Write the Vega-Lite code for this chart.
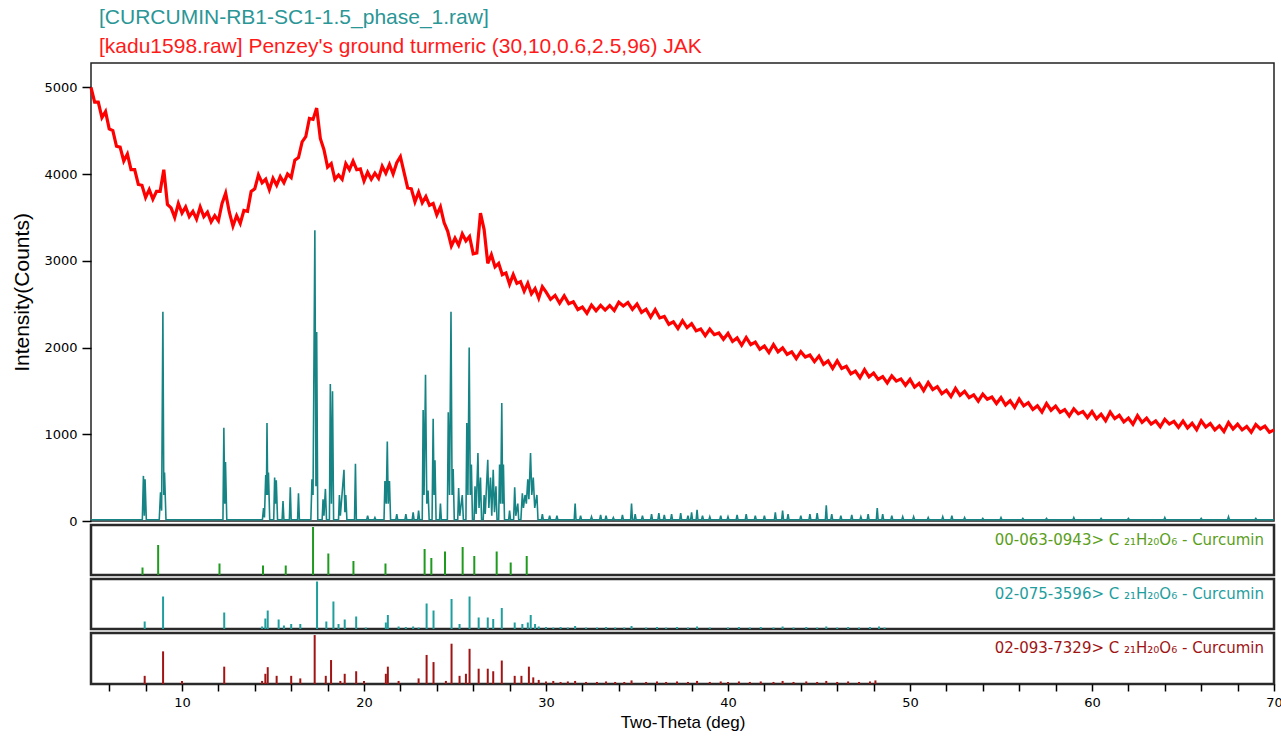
{
  "$schema": "https://vega.github.io/schema/vega-lite/v6.json",
  "background": "white",
  "padding": {"left": 11, "top": 6, "right": 4, "bottom": 0},
  "spacing": 4,
  "bounds": "flush",
  "config": {"font": "Liberation Sans", "axis": {"labelOverlap": false}},
  "datasets": {
    "turmeric": [
      {"t":5.0,"c":5000},{"t":5.2,"c":4830},{"t":5.4,"c":4830},{"t":5.6,"c":4650},{"t":5.8,"c":4720},{"t":6.0,"c":4520},{"t":6.2,"c":4500},{"t":6.4,"c":4320},{"t":6.6,"c":4310},{"t":6.8,"c":4150},
      {"t":7.0,"c":4230},{"t":7.2,"c":4050},{"t":7.4,"c":4050},{"t":7.6,"c":3880},{"t":7.8,"c":3870},{"t":8.0,"c":3730},{"t":8.2,"c":3820},{"t":8.4,"c":3710},{"t":8.6,"c":3800},{"t":8.8,"c":3800},
      {"t":9.0,"c":4050},{"t":9.2,"c":3650},{"t":9.4,"c":3610},{"t":9.6,"c":3500},{"t":9.8,"c":3660},{"t":10.0,"c":3550},{"t":10.2,"c":3620},{"t":10.4,"c":3510},{"t":10.6,"c":3570},{"t":10.8,"c":3480},
      {"t":11.0,"c":3620},{"t":11.2,"c":3510},{"t":11.4,"c":3560},{"t":11.6,"c":3450},{"t":11.8,"c":3520},{"t":12.0,"c":3460},{"t":12.2,"c":3660},{"t":12.4,"c":3780},{"t":12.6,"c":3560},{"t":12.8,"c":3400},
      {"t":13.0,"c":3520},{"t":13.2,"c":3430},{"t":13.4,"c":3580},{"t":13.6,"c":3570},{"t":13.8,"c":3800},{"t":14.0,"c":3830},{"t":14.2,"c":3990},{"t":14.4,"c":3900},{"t":14.6,"c":3940},{"t":14.8,"c":3820},
      {"t":15.0,"c":3950},{"t":15.2,"c":3870},{"t":15.4,"c":3970},{"t":15.6,"c":3900},{"t":15.8,"c":4000},{"t":16.0,"c":3960},{"t":16.2,"c":4160},{"t":16.4,"c":4190},{"t":16.6,"c":4370},{"t":16.8,"c":4430},
      {"t":17.0,"c":4640},{"t":17.2,"c":4630},{"t":17.4,"c":4760},{"t":17.6,"c":4410},{"t":17.8,"c":4280},{"t":18.0,"c":4080},{"t":18.2,"c":4120},{"t":18.4,"c":3940},{"t":18.6,"c":3990},{"t":18.8,"c":3940},
      {"t":19.0,"c":4120},{"t":19.2,"c":4050},{"t":19.4,"c":4150},{"t":19.6,"c":4050},{"t":19.8,"c":4060},{"t":20.0,"c":3920},{"t":20.2,"c":4020},{"t":20.4,"c":3940},{"t":20.6,"c":4010},{"t":20.8,"c":3950},
      {"t":21.0,"c":4090},{"t":21.2,"c":4010},{"t":21.4,"c":4110},{"t":21.6,"c":4000},{"t":21.8,"c":4130},{"t":22.0,"c":4200},{"t":22.2,"c":4020},{"t":22.4,"c":3840},{"t":22.6,"c":3830},{"t":22.8,"c":3680},
      {"t":23.0,"c":3790},{"t":23.2,"c":3670},{"t":23.4,"c":3740},{"t":23.6,"c":3640},{"t":23.8,"c":3660},{"t":24.0,"c":3530},{"t":24.2,"c":3620},{"t":24.4,"c":3440},{"t":24.6,"c":3340},{"t":24.8,"c":3170},
      {"t":25.0,"c":3260},{"t":25.2,"c":3180},{"t":25.4,"c":3310},{"t":25.6,"c":3230},{"t":25.8,"c":3280},{"t":26.0,"c":3080},{"t":26.2,"c":3090},{"t":26.4,"c":3550},{"t":26.6,"c":3360},{"t":26.8,"c":2970},
      {"t":27.0,"c":3070},{"t":27.2,"c":2930},{"t":27.4,"c":2970},{"t":27.6,"c":2840},{"t":27.8,"c":2860},{"t":28.0,"c":2730},{"t":28.2,"c":2840},{"t":28.4,"c":2740},{"t":28.6,"c":2760},{"t":28.8,"c":2650},
      {"t":29.0,"c":2740},{"t":29.2,"c":2620},{"t":29.4,"c":2680},{"t":29.6,"c":2570},{"t":29.8,"c":2700},
      {"t":30.0,"c":2642},{"t":30.25,"c":2555},{"t":30.5,"c":2601},{"t":30.75,"c":2511},{"t":31.0,"c":2596},{"t":31.25,"c":2506},{"t":31.5,"c":2528},{"t":31.75,"c":2438},
      {"t":32.0,"c":2467},{"t":32.25,"c":2394},{"t":32.5,"c":2489},{"t":32.75,"c":2424},{"t":33.0,"c":2485},{"t":33.25,"c":2432},{"t":33.5,"c":2484},{"t":33.75,"c":2426},
      {"t":34.0,"c":2522},{"t":34.25,"c":2478},{"t":34.5,"c":2518},{"t":34.75,"c":2440},{"t":35.0,"c":2502},{"t":35.25,"c":2405},{"t":35.5,"c":2441},{"t":35.75,"c":2351},
      {"t":36.0,"c":2436},{"t":36.25,"c":2341},{"t":36.5,"c":2358},{"t":36.75,"c":2268},{"t":37.0,"c":2297},{"t":37.25,"c":2219},{"t":37.5,"c":2309},{"t":37.75,"c":2229},
      {"t":38.0,"c":2275},{"t":38.25,"c":2192},{"t":38.5,"c":2214},{"t":38.75,"c":2136},{"t":39.0,"c":2212},{"t":39.25,"c":2148},{"t":39.5,"c":2168},{"t":39.75,"c":2095},
      {"t":40.0,"c":2162},{"t":40.25,"c":2070},{"t":40.5,"c":2111},{"t":40.75,"c":2026},{"t":41.0,"c":2116},{"t":41.25,"c":2034},{"t":41.5,"c":2063},{"t":41.75,"c":1980},
      {"t":42.0,"c":2017},{"t":42.25,"c":1942},{"t":42.5,"c":2034},{"t":42.75,"c":1951},{"t":43.0,"c":1995},{"t":43.25,"c":1920},{"t":43.5,"c":1949},{"t":43.75,"c":1873},
      {"t":44.0,"c":1952},{"t":44.25,"c":1891},{"t":44.5,"c":1913},{"t":44.75,"c":1837},{"t":45.0,"c":1902},{"t":45.25,"c":1807},{"t":45.5,"c":1846},{"t":45.75,"c":1759},
      {"t":46.0,"c":1846},{"t":46.25,"c":1758},{"t":46.5,"c":1783},{"t":46.75,"c":1696},{"t":47.0,"c":1727},{"t":47.25,"c":1652},{"t":47.5,"c":1744},{"t":47.75,"c":1661},
      {"t":48.0,"c":1705},{"t":48.25,"c":1632},{"t":48.5,"c":1664},{"t":48.75,"c":1591},{"t":49.0,"c":1672},{"t":49.25,"c":1613},{"t":49.5,"c":1638},{"t":49.75,"c":1565},
      {"t":50.0,"c":1632},{"t":50.25,"c":1543},{"t":50.5,"c":1586},{"t":50.75,"c":1503},{"t":51.0,"c":1596},{"t":51.25,"c":1516},{"t":51.5,"c":1548},{"t":51.75,"c":1468},
      {"t":52.0,"c":1507},{"t":52.25,"c":1434},{"t":52.5,"c":1529},{"t":52.75,"c":1449},{"t":53.0,"c":1495},{"t":53.25,"c":1422},{"t":53.5,"c":1454},{"t":53.75,"c":1381},
      {"t":54.0,"c":1462},{"t":54.25,"c":1403},{"t":54.5,"c":1428},{"t":54.75,"c":1355},{"t":55.0,"c":1422},{"t":55.25,"c":1337},{"t":55.5,"c":1386},{"t":55.75,"c":1309},
      {"t":56.0,"c":1406},{"t":56.25,"c":1328},{"t":56.5,"c":1363},{"t":56.75,"c":1286},{"t":57.0,"c":1327},{"t":57.25,"c":1256},{"t":57.5,"c":1354},{"t":57.75,"c":1277},
      {"t":58.0,"c":1325},{"t":58.25,"c":1252},{"t":58.5,"c":1284},{"t":58.75,"c":1211},{"t":59.0,"c":1292},{"t":59.25,"c":1235},{"t":59.5,"c":1263},{"t":59.75,"c":1193},
      {"t":60.0,"c":1262},{"t":60.25,"c":1180},{"t":60.5,"c":1231},{"t":60.75,"c":1156},{"t":61.0,"c":1256},{"t":61.25,"c":1181},{"t":61.5,"c":1218},{"t":61.75,"c":1143},
      {"t":62.0,"c":1187},{"t":62.25,"c":1116},{"t":62.5,"c":1214},{"t":62.75,"c":1137},{"t":63.0,"c":1185},{"t":63.25,"c":1117},{"t":63.5,"c":1154},{"t":63.75,"c":1086},
      {"t":64.0,"c":1172},{"t":64.25,"c":1118},{"t":64.5,"c":1148},{"t":64.75,"c":1080},{"t":65.0,"c":1152},{"t":65.25,"c":1073},{"t":65.5,"c":1126},{"t":65.75,"c":1053},
      {"t":66.0,"c":1156},{"t":66.25,"c":1084},{"t":66.5,"c":1123},{"t":66.75,"c":1050},{"t":67.0,"c":1097},{"t":67.25,"c":1032},{"t":67.5,"c":1134},{"t":67.75,"c":1061},
      {"t":68.0,"c":1115},{"t":68.25,"c":1050},{"t":68.5,"c":1089},{"t":68.75,"c":1023},{"t":69.0,"c":1112},{"t":69.25,"c":1061},{"t":69.5,"c":1093},{"t":69.75,"c":1023},{"t":70.0,"c":1050}
    ],
    "curcumin": [
      {"t":5.0,"c":15},{"t":7.82,"c":15},{"t":7.88,"c":520},{"t":7.93,"c":60},{"t":7.97,"c":480},{"t":8.04,"c":15},
      {"t":8.75,"c":15},{"t":8.82,"c":330},{"t":8.88,"c":120},{"t":8.95,"c":2413},{"t":9.0,"c":300},{"t":9.04,"c":560},{"t":9.12,"c":15},
      {"t":12.25,"c":15},{"t":12.3,"c":1074},{"t":12.35,"c":200},{"t":12.39,"c":681},{"t":12.46,"c":15},
      {"t":14.42,"c":15},{"t":14.48,"c":150},{"t":14.53,"c":40},{"t":14.6,"c":530},{"t":14.64,"c":300},{"t":14.67,"c":1130},{"t":14.71,"c":300},{"t":14.75,"c":560},{"t":14.82,"c":15},
      {"t":15.04,"c":15},{"t":15.09,"c":500},{"t":15.13,"c":200},{"t":15.18,"c":470},{"t":15.25,"c":15},
      {"t":15.5,"c":15},{"t":15.55,"c":230},{"t":15.6,"c":15},{"t":15.9,"c":15},{"t":15.95,"c":390},{"t":16.0,"c":15},{"t":16.35,"c":15},{"t":16.4,"c":320},{"t":16.45,"c":15},
      {"t":17.08,"c":15},{"t":17.14,"c":480},{"t":17.2,"c":300},{"t":17.3,"c":3352},{"t":17.36,"c":400},{"t":17.4,"c":2180},{"t":17.46,"c":15},
      {"t":17.7,"c":15},{"t":17.75,"c":250},{"t":17.8,"c":60},{"t":17.88,"c":370},{"t":17.94,"c":15},
      {"t":18.1,"c":15},{"t":18.15,"c":1580},{"t":18.21,"c":200},{"t":18.27,"c":1495},{"t":18.33,"c":15},
      {"t":18.6,"c":15},{"t":18.65,"c":300},{"t":18.7,"c":60},{"t":18.9,"c":590},{"t":18.95,"c":100},{"t":19.0,"c":300},{"t":19.06,"c":15},
      {"t":19.48,"c":15},{"t":19.53,"c":660},{"t":19.58,"c":15},
      {"t":20.15,"c":15},{"t":20.2,"c":60},{"t":20.25,"c":15},{"t":20.55,"c":15},{"t":20.6,"c":40},{"t":20.65,"c":15},
      {"t":21.1,"c":15},{"t":21.15,"c":460},{"t":21.22,"c":200},{"t":21.28,"c":915},{"t":21.33,"c":200},{"t":21.4,"c":460},{"t":21.46,"c":15},
      {"t":21.75,"c":15},{"t":21.8,"c":80},{"t":21.85,"c":15},{"t":22.25,"c":15},{"t":22.3,"c":80},{"t":22.35,"c":15},{"t":22.65,"c":15},{"t":22.7,"c":100},{"t":22.75,"c":15},{"t":22.95,"c":15},{"t":23.0,"c":120},{"t":23.05,"c":15},
      {"t":23.2,"c":15},{"t":23.25,"c":1280},{"t":23.3,"c":300},{"t":23.38,"c":1686},{"t":23.45,"c":200},{"t":23.52,"c":350},{"t":23.58,"c":15},
      {"t":23.74,"c":15},{"t":23.8,"c":1180},{"t":23.85,"c":300},{"t":23.9,"c":700},{"t":23.96,"c":15},
      {"t":24.15,"c":15},{"t":24.2,"c":200},{"t":24.25,"c":15},
      {"t":24.58,"c":15},{"t":24.63,"c":1255},{"t":24.7,"c":300},{"t":24.78,"c":2413},{"t":24.84,"c":300},{"t":24.9,"c":600},{"t":24.96,"c":15},
      {"t":25.15,"c":15},{"t":25.2,"c":380},{"t":25.26,"c":60},{"t":25.4,"c":300},{"t":25.46,"c":15},
      {"t":25.6,"c":15},{"t":25.65,"c":1130},{"t":25.71,"c":300},{"t":25.78,"c":2000},{"t":25.84,"c":300},{"t":25.9,"c":650},{"t":25.96,"c":15},
      {"t":26.05,"c":15},{"t":26.1,"c":400},{"t":26.16,"c":80},{"t":26.26,"c":785},{"t":26.32,"c":150},{"t":26.4,"c":500},{"t":26.46,"c":15},
      {"t":26.55,"c":15},{"t":26.6,"c":300},{"t":26.66,"c":80},{"t":26.8,"c":705},{"t":26.86,"c":150},{"t":26.95,"c":500},{"t":27.02,"c":60},{"t":27.1,"c":590},{"t":27.17,"c":100},{"t":27.25,"c":400},{"t":27.31,"c":15},
      {"t":27.4,"c":15},{"t":27.45,"c":650},{"t":27.51,"c":200},{"t":27.57,"c":1360},{"t":27.62,"c":200},{"t":27.66,"c":650},{"t":27.72,"c":15},
      {"t":27.95,"c":15},{"t":28.0,"c":120},{"t":28.05,"c":15},{"t":28.22,"c":15},{"t":28.28,"c":390},{"t":28.34,"c":60},{"t":28.45,"c":200},{"t":28.5,"c":15},
      {"t":28.62,"c":15},{"t":28.7,"c":320},{"t":28.76,"c":150},{"t":28.85,"c":300},{"t":28.92,"c":200},{"t":29.0,"c":480},{"t":29.06,"c":250},{"t":29.15,"c":785},{"t":29.22,"c":300},{"t":29.3,"c":500},{"t":29.38,"c":150},{"t":29.5,"c":300},{"t":29.56,"c":15},
      {"t":29.75,"c":15},{"t":29.8,"c":80},{"t":29.85,"c":15},{"t":30.15,"c":15},{"t":30.2,"c":60},{"t":30.25,"c":15},{"t":30.55,"c":15},{"t":30.6,"c":60},{"t":30.65,"c":15},
      {"t":31.55,"c":15},{"t":31.6,"c":200},{"t":31.65,"c":15},{"t":31.85,"c":15},{"t":31.9,"c":60},{"t":31.95,"c":15},
      {"t":32.45,"c":15},{"t":32.5,"c":50},{"t":32.55,"c":15},{"t":32.95,"c":15},{"t":33.0,"c":70},{"t":33.05,"c":15},{"t":33.25,"c":15},{"t":33.3,"c":60},{"t":33.35,"c":15},{"t":33.65,"c":15},{"t":33.7,"c":40},{"t":33.75,"c":15},
      {"t":34.15,"c":15},{"t":34.2,"c":70},{"t":34.25,"c":15},{"t":34.65,"c":15},{"t":34.7,"c":200},{"t":34.75,"c":15},{"t":34.85,"c":15},{"t":34.9,"c":80},{"t":34.95,"c":15},
      {"t":35.25,"c":15},{"t":35.3,"c":60},{"t":35.35,"c":15},{"t":35.75,"c":15},{"t":35.8,"c":80},{"t":35.85,"c":15},{"t":36.15,"c":15},{"t":36.2,"c":90},{"t":36.25,"c":15},{"t":36.45,"c":15},{"t":36.5,"c":70},{"t":36.55,"c":15},
      {"t":36.85,"c":15},{"t":36.9,"c":80},{"t":36.95,"c":15},{"t":37.35,"c":15},{"t":37.4,"c":90},{"t":37.45,"c":15},{"t":37.75,"c":15},{"t":37.8,"c":60},{"t":37.85,"c":15},
      {"t":37.95,"c":15},{"t":38.0,"c":100},{"t":38.05,"c":15},{"t":38.25,"c":15},{"t":38.3,"c":130},{"t":38.35,"c":15},{"t":38.55,"c":15},{"t":38.6,"c":60},{"t":38.65,"c":15},
      {"t":38.95,"c":15},{"t":39.0,"c":50},{"t":39.05,"c":15},{"t":39.55,"c":15},{"t":39.6,"c":60},{"t":39.65,"c":15},{"t":39.95,"c":15},{"t":40.0,"c":50},{"t":40.05,"c":15},
      {"t":40.45,"c":15},{"t":40.5,"c":70},{"t":40.55,"c":15},{"t":40.95,"c":15},{"t":41.0,"c":80},{"t":41.05,"c":15},{"t":41.45,"c":15},{"t":41.5,"c":60},{"t":41.55,"c":15},
      {"t":41.95,"c":15},{"t":42.0,"c":60},{"t":42.05,"c":15},{"t":42.55,"c":15},{"t":42.6,"c":100},{"t":42.65,"c":15},{"t":42.95,"c":15},{"t":43.0,"c":120},{"t":43.05,"c":15},{"t":43.25,"c":15},{"t":43.3,"c":80},{"t":43.35,"c":15},
      {"t":43.95,"c":15},{"t":44.0,"c":60},{"t":44.05,"c":15},{"t":44.45,"c":15},{"t":44.5,"c":80},{"t":44.55,"c":15},{"t":44.85,"c":15},{"t":44.9,"c":90},{"t":44.95,"c":15},
      {"t":45.35,"c":15},{"t":45.4,"c":180},{"t":45.45,"c":15},{"t":45.65,"c":15},{"t":45.7,"c":80},{"t":45.75,"c":15},
      {"t":46.15,"c":15},{"t":46.2,"c":60},{"t":46.25,"c":15},{"t":46.75,"c":15},{"t":46.8,"c":70},{"t":46.85,"c":15},{"t":47.25,"c":15},{"t":47.3,"c":50},{"t":47.35,"c":15},
      {"t":47.65,"c":15},{"t":47.7,"c":80},{"t":47.75,"c":15},{"t":48.15,"c":15},{"t":48.2,"c":150},{"t":48.25,"c":15},{"t":48.45,"c":15},{"t":48.5,"c":80},{"t":48.55,"c":15},
      {"t":48.95,"c":15},{"t":49.0,"c":60},{"t":49.05,"c":15},{"t":49.55,"c":15},{"t":49.6,"c":50},{"t":49.65,"c":15},{"t":50.15,"c":15},{"t":50.2,"c":50},{"t":50.25,"c":15},
      {"t":50.95,"c":15},{"t":51.0,"c":40},{"t":51.05,"c":15},{"t":51.75,"c":15},{"t":51.8,"c":50},{"t":51.85,"c":15},{"t":52.25,"c":15},{"t":52.3,"c":60},{"t":52.35,"c":15},
      {"t":52.95,"c":15},{"t":53.0,"c":40},{"t":53.05,"c":15},{"t":53.95,"c":15},{"t":54.0,"c":30},{"t":54.05,"c":15},{"t":54.95,"c":15},{"t":55.0,"c":40},{"t":55.05,"c":15},
      {"t":56.15,"c":15},{"t":56.2,"c":30},{"t":56.25,"c":15},{"t":57.45,"c":15},{"t":57.5,"c":30},{"t":57.55,"c":15},{"t":58.95,"c":15},{"t":59.0,"c":40},{"t":59.05,"c":15},
      {"t":60.45,"c":15},{"t":60.5,"c":30},{"t":60.55,"c":15},{"t":61.95,"c":15},{"t":62.0,"c":30},{"t":62.05,"c":15},{"t":63.95,"c":15},{"t":64.0,"c":40},{"t":64.05,"c":15},
      {"t":65.95,"c":15},{"t":66.0,"c":30},{"t":66.05,"c":15},{"t":67.45,"c":15},{"t":67.5,"c":50},{"t":67.55,"c":15},{"t":68.95,"c":15},{"t":69.0,"c":30},{"t":69.05,"c":15},{"t":70.0,"c":15}
    ],
    "ref1": [
      {"t":7.83,"h":15},{"t":8.69,"h":60},{"t":12.06,"h":23},{"t":14.45,"h":19},{"t":15.7,"h":19},{"t":17.2,"h":96},{"t":18.04,"h":43},{"t":19.42,"h":28},{"t":21.18,"h":23},
      {"t":23.33,"h":52},{"t":23.7,"h":34},{"t":24.45,"h":47},{"t":25.42,"h":56},{"t":26.06,"h":38},{"t":27.29,"h":47},{"t":28.06,"h":25},{"t":28.94,"h":38}
    ],
    "ref2": [
      {"t":7.95,"h":15},{"t":8.96,"h":65},{"t":12.32,"h":33},{"t":14.4,"h":5},{"t":14.58,"h":21},{"t":14.71,"h":37},{"t":15.31,"h":19},{"t":15.6,"h":7},{"t":16.0,"h":10},{"t":16.5,"h":10},
      {"t":17.42,"h":95},{"t":17.93,"h":15},{"t":18.32,"h":55},{"t":18.6,"h":10},{"t":18.94,"h":19},{"t":19.57,"h":25},{"t":20.1,"h":3},{"t":21.2,"h":13},{"t":21.31,"h":28},
      {"t":21.9,"h":5},{"t":22.3,"h":4},{"t":22.7,"h":5},{"t":23.0,"h":3},{"t":23.44,"h":51},{"t":23.82,"h":37},{"t":24.81,"h":60},{"t":25.25,"h":10},{"t":25.8,"h":65},
      {"t":26.3,"h":23},{"t":26.8,"h":23},{"t":27.1,"h":20},{"t":27.57,"h":42},{"t":28.28,"h":13},{"t":28.7,"h":10},{"t":29.0,"h":13},{"t":29.16,"h":28},{"t":29.4,"h":10},
      {"t":29.6,"h":5},{"t":30.0,"h":4},{"t":30.4,"h":3},{"t":30.8,"h":4},{"t":31.2,"h":3},{"t":31.6,"h":6},{"t":32.2,"h":3},{"t":32.8,"h":3},{"t":33.3,"h":4},{"t":33.8,"h":3},
      {"t":34.3,"h":3},{"t":34.7,"h":6},{"t":35.5,"h":3},{"t":36.1,"h":4},{"t":36.6,"h":3},{"t":37.2,"h":4},{"t":37.8,"h":3},{"t":38.3,"h":5},{"t":39.0,"h":3},{"t":40.0,"h":3},
      {"t":40.6,"h":4},{"t":41.2,"h":3},{"t":41.8,"h":4},{"t":42.5,"h":3},{"t":43.0,"h":5},{"t":43.6,"h":3},{"t":44.3,"h":4},{"t":44.9,"h":3},{"t":45.4,"h":5},{"t":46.0,"h":3},
      {"t":46.6,"h":4},{"t":47.2,"h":3},{"t":47.8,"h":4},{"t":48.3,"h":5},{"t":48.6,"h":3}
    ],
    "ref3": [
      {"t":7.95,"h":16},{"t":8.96,"h":64},{"t":10.0,"h":6},{"t":12.32,"h":34},{"t":14.4,"h":6},{"t":14.58,"h":20},{"t":14.71,"h":33},{"t":15.2,"h":16},{"t":16.0,"h":16},{"t":16.5,"h":11},
      {"t":17.29,"h":96},{"t":17.9,"h":16},{"t":18.19,"h":47},{"t":18.7,"h":6},{"t":18.94,"h":20},{"t":19.57,"h":25},{"t":20.0,"h":6},{"t":21.2,"h":20},{"t":21.31,"h":34},{"t":21.9,"h":6},
      {"t":23.0,"h":11},{"t":23.44,"h":57},{"t":23.82,"h":43},{"t":24.5,"h":6},{"t":24.81,"h":79},{"t":25.25,"h":16},{"t":25.6,"h":20},{"t":25.8,"h":69},{"t":26.3,"h":30},{"t":26.8,"h":30},
      {"t":27.1,"h":25},{"t":27.57,"h":46},{"t":28.28,"h":16},{"t":28.65,"h":16},{"t":29.06,"h":34},{"t":29.3,"h":13},
      {"t":29.6,"h":8},{"t":30.0,"h":5},{"t":30.4,"h":6},{"t":30.8,"h":4},{"t":31.2,"h":5},{"t":31.6,"h":6},{"t":32.2,"h":4},{"t":32.8,"h":4},{"t":33.3,"h":5},{"t":33.8,"h":4},
      {"t":34.3,"h":4},{"t":34.7,"h":7},{"t":35.5,"h":4},{"t":36.1,"h":5},{"t":36.6,"h":4},{"t":37.2,"h":5},{"t":37.8,"h":4},{"t":38.3,"h":6},{"t":39.0,"h":4},{"t":39.6,"h":5},
      {"t":40.0,"h":4},{"t":40.6,"h":5},{"t":41.2,"h":4},{"t":41.8,"h":5},{"t":42.5,"h":4},{"t":43.0,"h":6},{"t":43.6,"h":4},{"t":44.3,"h":5},{"t":44.9,"h":4},{"t":45.4,"h":6},
      {"t":46.0,"h":4},{"t":46.6,"h":5},{"t":47.2,"h":4},{"t":47.8,"h":5},{"t":48.1,"h":7}
    ]
  },
  "vconcat": [
    {
      "width": 1183,
      "height": 458,
      "view": {"stroke": "#222222", "strokeWidth": 1.5},
      "title": {
        "text": "[CURCUMIN-RB1-SC1-1.5_phase_1.raw]",
        "subtitle": "[kadu1598.raw] Penzey's ground turmeric (30,10,0.6,2.5,96) JAK",
        "anchor": "start", "frame": "group", "dx": 8, "offset": 6,
        "font": "Liberation Sans", "fontSize": 21, "fontWeight": "normal", "color": "#2a9696",
        "subtitleFont": "Liberation Sans", "subtitleFontSize": 21, "subtitleColor": "#ff1a1a", "subtitlePadding": 8
      },
      "layer": [
        {
          "data": {"name": "turmeric"},
          "mark": {"type": "line", "color": "#ff0000", "strokeWidth": 3.2},
          "encoding": {
            "x": {"field": "t", "type": "quantitative", "scale": {"domain": [5, 70], "nice": false, "zero": false}, "axis": null},
            "y": {"field": "c", "type": "quantitative", "scale": {"domain": [0, 5280], "nice": false},
              "axis": {"values": [0, 1000, 2000, 3000, 4000, 5000], "tickCount": 20, "format": "d", "title": "Intensity(Counts)", "grid": false, "domain": false,
                "tickSize": 9, "tickColor": "#000000", "tickWidth": 1.5, "labelPadding": 5,
                "labelFont": "DejaVu Sans", "labelFontSize": 13, "labelColor": "#000000",
                "titleFont": "Liberation Sans", "titleFontSize": 21, "titleFontWeight": "normal", "titleColor": "#000000", "titlePadding": 11}}
          }
        },
        {
          "data": {"name": "curcumin"},
          "mark": {"type": "line", "color": "#168484", "strokeWidth": 1.6},
          "encoding": {
            "x": {"field": "t", "type": "quantitative"},
            "y": {"field": "c", "type": "quantitative"}
          }
        }
      ]
    },
    {
      "width": 1183,
      "height": 50,
      "view": {"stroke": "#2a2a2a", "strokeWidth": 2.5},
      "layer": [
        {
          "data": {"name": "ref1"},
          "mark": {"type": "rule", "color": "#1e9a1e", "strokeWidth": 2},
          "encoding": {
            "x": {"field": "t", "type": "quantitative", "scale": {"domain": [5, 70], "nice": false, "zero": false}, "axis": null},
            "y": {"field": "h", "type": "quantitative", "scale": {"domain": [0, 100], "nice": false}, "axis": null},
            "y2": {"datum": 0}
          }
        },
        {
          "data": {"values": [{"label": "00-063-0943> C ₂₁H₂₀O₆ - Curcumin"}]},
          "mark": {"type": "text", "align": "right", "baseline": "middle", "dx": -10, "font": "DejaVu Sans", "fontSize": 15, "color": "#5a9e1a"},
          "encoding": {"x": {"datum": 70}, "y": {"datum": 70}, "text": {"field": "label"}}
        }
      ]
    },
    {
      "width": 1183,
      "height": 50,
      "view": {"stroke": "#2a2a2a", "strokeWidth": 2.5},
      "layer": [
        {
          "data": {"name": "ref2"},
          "mark": {"type": "rule", "color": "#1f9e9e", "strokeWidth": 2},
          "encoding": {
            "x": {"field": "t", "type": "quantitative", "scale": {"domain": [5, 70], "nice": false, "zero": false}, "axis": null},
            "y": {"field": "h", "type": "quantitative", "scale": {"domain": [0, 100], "nice": false}, "axis": null},
            "y2": {"datum": 0}
          }
        },
        {
          "data": {"values": [{"label": "02-075-3596> C ₂₁H₂₀O₆ - Curcumin"}]},
          "mark": {"type": "text", "align": "right", "baseline": "middle", "dx": -10, "font": "DejaVu Sans", "fontSize": 15, "color": "#1f9e9e"},
          "encoding": {"x": {"datum": 70}, "y": {"datum": 70}, "text": {"field": "label"}}
        }
      ]
    },
    {
      "width": 1183,
      "height": 51,
      "view": {"stroke": "#2a2a2a", "strokeWidth": 2.5},
      "layer": [
        {
          "data": {"name": "ref3"},
          "mark": {"type": "rule", "color": "#a01414", "strokeWidth": 2},
          "encoding": {
            "x": {"field": "t", "type": "quantitative", "scale": {"domain": [5, 70], "nice": false, "zero": false},
              "axis": {"values": [6,8,10,12,14,16,18,20,22,24,26,28,30,32,34,36,38,40,42,44,46,48,50,52,54,56,58,60,62,64,66,68,70],
                "tickCount": 100, "format": "d",
                "labelExpr": "datum.value % 10 == 0 ? datum.label : ''", "labelOverlap": false, "grid": false, "domain": false,
                "tickSize": 7, "tickColor": "#000000", "tickWidth": 1.5, "labelPadding": 5,
                "labelFont": "DejaVu Sans", "labelFontSize": 13, "labelColor": "#000000", "labelFlush": false,
                "title": "Two-Theta (deg)", "titleFont": "Liberation Sans", "titleFontSize": 17, "titleFontWeight": "normal", "titleColor": "#000000", "titlePadding": 5}},
            "y": {"field": "h", "type": "quantitative", "scale": {"domain": [0, 100], "nice": false}, "axis": null},
            "y2": {"datum": 0}
          }
        },
        {
          "data": {"values": [{"label": "02-093-7329> C ₂₁H₂₀O₆ - Curcumin"}]},
          "mark": {"type": "text", "align": "right", "baseline": "middle", "dx": -10, "font": "DejaVu Sans", "fontSize": 15, "color": "#a01414"},
          "encoding": {"x": {"datum": 70}, "y": {"datum": 70}, "text": {"field": "label"}}
        }
      ]
    }
  ]
}
